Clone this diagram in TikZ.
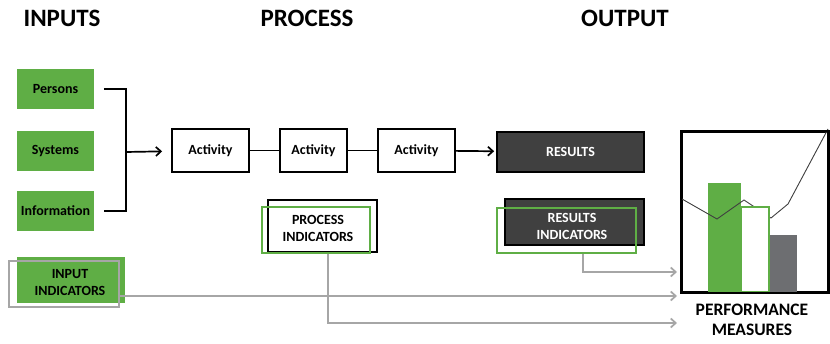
\documentclass[tikz,border=0pt]{standalone}
\usepackage{fontspec}
\setmainfont{Carlito}
\usetikzlibrary{arrows.meta,positioning}

\definecolor{boxgreen}{HTML}{5FAE45}
\definecolor{boxdark}{HTML}{404040}
\definecolor{linegray}{HTML}{A6A6A6}
\definecolor{bargray}{HTML}{6D6E71}

\begin{document}
\begin{tikzpicture}[
    x=1pt, y=-1pt,
    line width=1.7pt,
    >={Straight Barb[length=5pt,width=9pt]},
    heading/.style = {
      font = \fontsize{25}{30}\selectfont\bfseries
    },
    inbox/.style = {
      fill = boxgreen,
      draw = none,
      inner sep = 0pt,
      font = \fontsize{14}{17}\selectfont\bfseries
    },
    actbox/.style = {
      draw = black,
      fill = white,
      inner sep = 0pt,
      minimum height = 43pt,
      font = \fontsize{14}{17}\selectfont\bfseries
    },
    darkbox/.style = {
      draw = black,
      fill = boxdark,
      text = white,
      inner sep = 0pt,
      font = \fontsize{14}{17}\selectfont\bfseries
    },
    frame/.style = {
      draw,
      fill = none,
      inner sep = 0pt
    },
    label/.style = {
      align = center,
      inner sep = 0pt,
      font = \fontsize{14}{17}\selectfont\bfseries
    },
    feed/.style = {
      draw = linegray,
      ->,
      shorten > = 5pt
    }
  ]
  \useasboundingbox (0,0) rectangle (830,344);

  % headings
  \node[heading] (hin)   at (62,18)  {INPUTS};
  \node[heading] (hproc) at (307,18) {PROCESS};
  \node[heading] (hout)  at (625,18) {OUTPUT};

  % inputs
  \node[inbox, minimum width=77pt, minimum height=40pt] (per)  at (55.5,89)  {Persons};
  \node[inbox, minimum width=77pt, minimum height=40pt] (sys)  at (55.5,151) {Systems};
  \node[inbox, minimum width=77pt, minimum height=40pt] (info) at (55.5,211) {Information};
  \coordinate (brk) at (126,152);
  \draw ([xshift=9pt]per.east) -| (brk) |- ([xshift=9pt]info.east);

  % process chain
  \node[actbox, minimum width=77pt] (act1) at (210.5,150.5) {Activity};
  \node[actbox, minimum width=67pt] (act2) at (313.5,150.5) {Activity};
  \node[actbox, minimum width=77pt] (act3) at (416.5,150.5) {Activity};
  \node[darkbox, minimum width=147pt, minimum height=40pt] (res) at (570.5,152) {RESULTS};
  \draw[->, shorten >=9pt] (brk) -- (act1);
  \draw (act1) -- (act2);
  \draw (act2) -- (act3);
  \draw[->, shorten >=2pt] (act3) -- (res);

  % indicators
  \node[inbox, minimum width=108pt, minimum height=46pt] (inind) at (71,280) {};
  \node[frame, draw=linegray, minimum width=110pt, minimum height=46pt] (inframe) at (64,284) {};
  \node[label] (intext) at (70,283) {INPUT\\INDICATORS};

  \node[actbox, minimum width=109pt, minimum height=52pt] (procind) at (322.5,226) {};
  \node[frame, draw=boxgreen, minimum width=108pt, minimum height=46pt] (procframe) at (316,230) {};
  \node[label] (proctext) at (318,228) {PROCESS\\INDICATORS};

  \node[darkbox, minimum width=139pt, minimum height=46pt] (resind) at (574.5,222) {};
  \node[frame, draw=boxgreen, minimum width=139pt, minimum height=45pt] (resframe) at (566.5,230.5) {};
  \node[label, text=white] (restext) at (572,226) {RESULTS\\INDICATORS};

  % performance chart
  \node[frame, minimum width=146pt, minimum height=160pt] (perf) at (755,212) {};
  \fill[boxgreen] (708,183) rectangle (741,292);
  \draw[boxdark, line width=0.9pt] plot coordinates {(682,199) (717,219) (744,200) (771,218) (788,204) (828,129)};
  \draw[boxgreen, fill=white] (741,207) rectangle (769,292);
  \fill[bargray] (770,235) rectangle (797,292);
  \draw (perf.north west) rectangle (perf.south east);
  \node[label, font=\fontsize{17.5}{20}\selectfont\bfseries] (perftext) at (752,320) {PERFORMANCE\\MEASURES};

  % feedback lines
  \coordinate (fin)   at (682,296);
  \coordinate (fres)  at (682,272);
  \coordinate (fproc) at (682,323);
  \draw[feed] (inframe.east |- fin) -- (fin);
  \draw[feed] ([xshift=16.5pt]resframe.south) |- (fres);
  \draw[feed] ([xshift=12pt]procframe.south) |- (fproc);
\end{tikzpicture}
\end{document}
